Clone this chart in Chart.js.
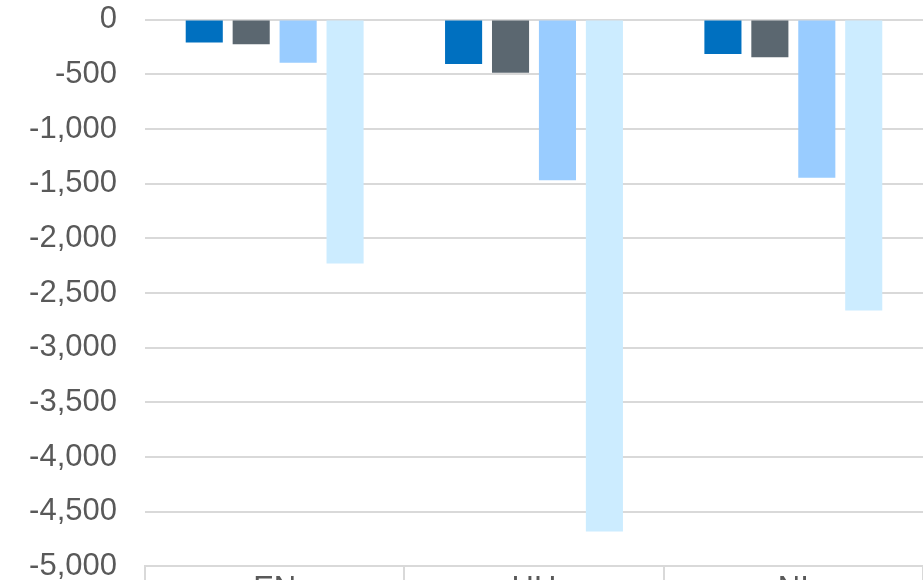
<!DOCTYPE html>
<html lang="en">
<head>
    <meta charset="UTF-8">
    <title>Bar chart</title>
    <script src="https://cdn.jsdelivr.net/npm/chart.js"></script>
    <style>
        html, body { margin: 0; padding: 0; overflow: hidden; background: #fff; }
        #wrap { width: 923px; height: 580px; overflow: hidden; }
        #barChart { display: block; margin-top: -27px; }
    </style>
</head>
<body>

<div id="wrap">
    <canvas id="barChart" width="923" height="640"></canvas>
</div>

<script>
    // categories and series
    const categories = ['EN', 'HH', 'NI'];
    const series1 = [-210, -405, -315];
    const series2 = [-225, -485, -345];
    const series3 = [-395, -1470, -1445];
    const series4 = [-2230, -4680, -2660];

    const barColors = ['#0070C0', '#5B6770', '#99CCFF', '#CCECFF'];
    const allSeries = [series1, series2, series3, series4];

    const gridColor = '#d9d9d9';
    const textColor = '#595959';
    const fontFamily = "'Liberation Sans', Arial, sans-serif";

    new Chart(document.getElementById('barChart'), {
        type: 'bar',
        data: {
            labels: categories,
            datasets: allSeries.map((s, i) => ({
                data: s,
                backgroundColor: barColors[i],
                borderWidth: 0,
                categoryPercentage: 0.724,
                barPercentage: 0.79
            }))
        },
        options: {
            responsive: false,
            devicePixelRatio: 1,
            animation: false,
            layout: { padding: 0 },
            plugins: {
                legend: { display: false },
                tooltip: { enabled: false }
            },
            scales: {
                y: {
                    min: -5000,
                    max: 0,
                    afterFit: scale => { scale.width = 145; },
                    ticks: {
                        stepSize: 500,
                        padding: 28,
                        color: textColor,
                        font: { family: fontFamily, size: 31 },
                        callback: v => v.toLocaleString('en-US')
                    },
                    grid: { color: gridColor, lineWidth: 2, drawTicks: false },
                    border: { display: false }
                },
                x: {
                    offset: true,
                    ticks: {
                        padding: -26,
                        color: textColor,
                        font: { family: fontFamily, size: 31 }
                    },
                    grid: {
                        offset: true,
                        drawOnChartArea: false,
                        drawTicks: true,
                        tickLength: 30,
                        color: gridColor,
                        lineWidth: 2
                    },
                    border: { display: true, color: gridColor, width: 2 }
                }
            }
        }
    });
</script>

</body>
</html>
